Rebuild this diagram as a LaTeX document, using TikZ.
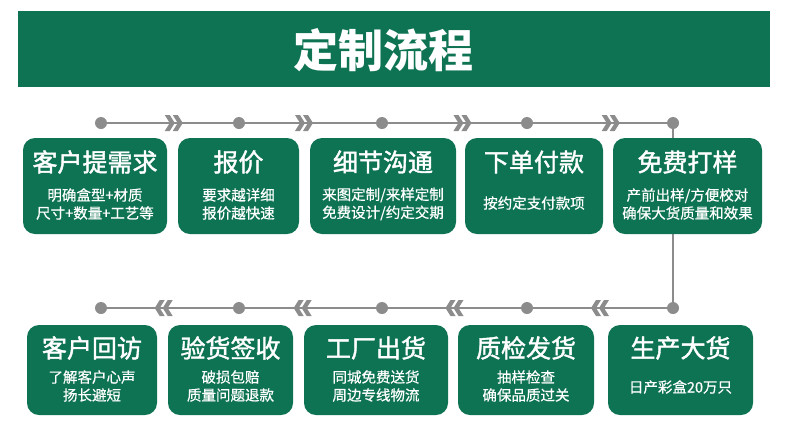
\documentclass[tikz,border=0pt]{standalone}
\usepackage{fontspec}
\setmainfont{Noto Sans CJK SC}
\newfontfamily\ttlfont[FakeBold=1.6]{Noto Sans CJK SC}
\newfontfamily\subfont[FakeBold=0.6]{Noto Sans CJK SC}
\definecolor{grn}{HTML}{0E7353}
\definecolor{gry}{HTML}{8C8C8C}
\tikzset{
  box/.style={fill=grn, rounded corners=12pt, draw=none, inner sep=0},
  ttl/.style={text=white, font=\ttlfont\fontsize{25}{30}\selectfont, inner sep=0},
  sub/.style={text=white, font=\subfont\fontsize{14.5}{18}\selectfont, align=center, inner sep=0},
  dot/.style={circle, fill=gry, minimum size=12pt, inner sep=0},
  conn/.style={draw=gry, line width=2.6pt},
  chevr/.pic={\fill[gry] (-9,-8)--(-4,-8)--(1,0)--(-4,8)--(-9,8)--(-4,0)--cycle
                         (-1,-8)--(4,-8)--(9,0)--(4,8)--(-1,8)--(4,0)--cycle;},
  chevl/.pic={\begin{scope}[xscale=-1]\fill[gry] (-9,-8)--(-4,-8)--(1,0)--(-4,8)--(-9,8)--(-4,0)--cycle
                         (-1,-8)--(4,-8)--(9,0)--(4,8)--(-1,8)--(4,0)--cycle;\end{scope}},
}
\begin{document}
\begin{tikzpicture}[x=1pt,y=-1pt]
\useasboundingbox (0,0) rectangle (790,432);
% header
\node[fill=grn, minimum width=752pt, minimum height=76pt, inner sep=0] (hdr) at (394,49) {};
\node[text=white, font=\bfseries\fontsize{45}{50}\selectfont, inner sep=0] (title) at (383,50) {定制流程};
% dots
\node[dot] (t1) at (101,123) {};
\node[dot] (t2) at (239,123) {};
\node[dot] (t3) at (382,123) {};
\node[dot] (t4) at (527,123) {};
\node[dot] (t5) at (673,123) {};
\node[dot] (b1) at (101,308) {};
\node[dot] (b2) at (239,308) {};
\node[dot] (b3) at (382,308) {};
\node[dot] (b4) at (527,308) {};
\node[dot] (b5) at (673,308) {};
% connectors
\draw[conn] (t1) -- (t2) coordinate[pos=0.53] (ct1);
\draw[conn] (t2) -- (t3) coordinate[pos=0.45] (ct2);
\draw[conn] (t3) -- (t4) coordinate[pos=0.56] (ct3);
\draw[conn] (t4) -- (t5) coordinate[pos=0.58] (ct4);
\draw[conn] (t5) -- (b5);
\draw[conn] (b5) -- (b4) coordinate[pos=0.50] (cb4);
\draw[conn] (b4) -- (b3) coordinate[pos=0.50] (cb3);
\draw[conn] (b3) -- (b2) coordinate[pos=0.56] (cb2);
\draw[conn] (b2) -- (b1) coordinate[pos=0.55] (cb1);
\pic at (ct1) {chevr};
\pic at (ct2) {chevr};
\pic at (ct3) {chevr};
\pic at (ct4) {chevr};
\pic at (cb1) {chevl};
\pic at (cb2) {chevl};
\pic at (cb3) {chevl};
\pic at (cb4) {chevl};
% top boxes
\node[box, minimum width=144pt, minimum height=96pt] (s1) at (95,186) {};
\node[box, minimum width=121pt, minimum height=96pt] (s2) at (238.5,186) {};
\node[box, minimum width=146pt, minimum height=96pt] (s3) at (383,186) {};
\node[box, minimum width=138pt, minimum height=96pt] (s4) at (534,186) {};
\node[box, minimum width=149pt, minimum height=96pt] (s5) at (687.5,186) {};
\node[ttl] (s1t) at (95,162) {客户提需求};
\node[ttl] (s2t) at (238.5,162) {报价};
\node[ttl] (s3t) at (383,162) {细节沟通};
\node[ttl] (s4t) at (534,162) {下单付款};
\node[ttl] (s5t) at (687.5,162) {免费打样};
\node[sub] (s1s) at (95,204) {明确盒型+材质\\尺寸+数量+工艺等};
\node[sub] (s2s) at (238.5,204) {要求越详细\\报价越快速};
\node[sub] (s3s) at (383,204) {来图定制/来样定制\\免费设计/约定交期};
\node[sub] (s4s) at (534,203) {按约定支付款项};
\node[sub] (s5s) at (687.5,204) {产前出样/方便校对\\确保大货质量和效果};
% bottom boxes
\node[box, minimum width=130pt, minimum height=90pt] (p1) at (92,370) {};
\node[box, minimum width=125pt, minimum height=90pt] (p2) at (230.5,370) {};
\node[box, minimum width=144pt, minimum height=90pt] (p3) at (376,370) {};
\node[box, minimum width=136pt, minimum height=90pt] (p4) at (526,370) {};
\node[box, minimum width=145pt, minimum height=90pt] (p5) at (680.5,370) {};
\node[ttl] (p1t) at (92,348) {客户回访};
\node[ttl] (p2t) at (230.5,348) {验货签收};
\node[ttl] (p3t) at (376,348) {工厂出货};
\node[ttl] (p4t) at (526,348) {质检发货};
\node[ttl] (p5t) at (680.5,348) {生产大货};
\node[sub] (p1s) at (92,386) {了解客户心声\\扬长避短};
\node[sub] (p2s) at (230.5,386) {破损包赔\\质量问题退款};
\node[sub] (p3s) at (376,386) {同城免费送货\\周边专线物流};
\node[sub] (p4s) at (526,386) {抽样检查\\确保品质过关};
\node[sub] (p5s) at (680.5,387) {日产彩盒20万只};
\end{tikzpicture}
\end{document}
